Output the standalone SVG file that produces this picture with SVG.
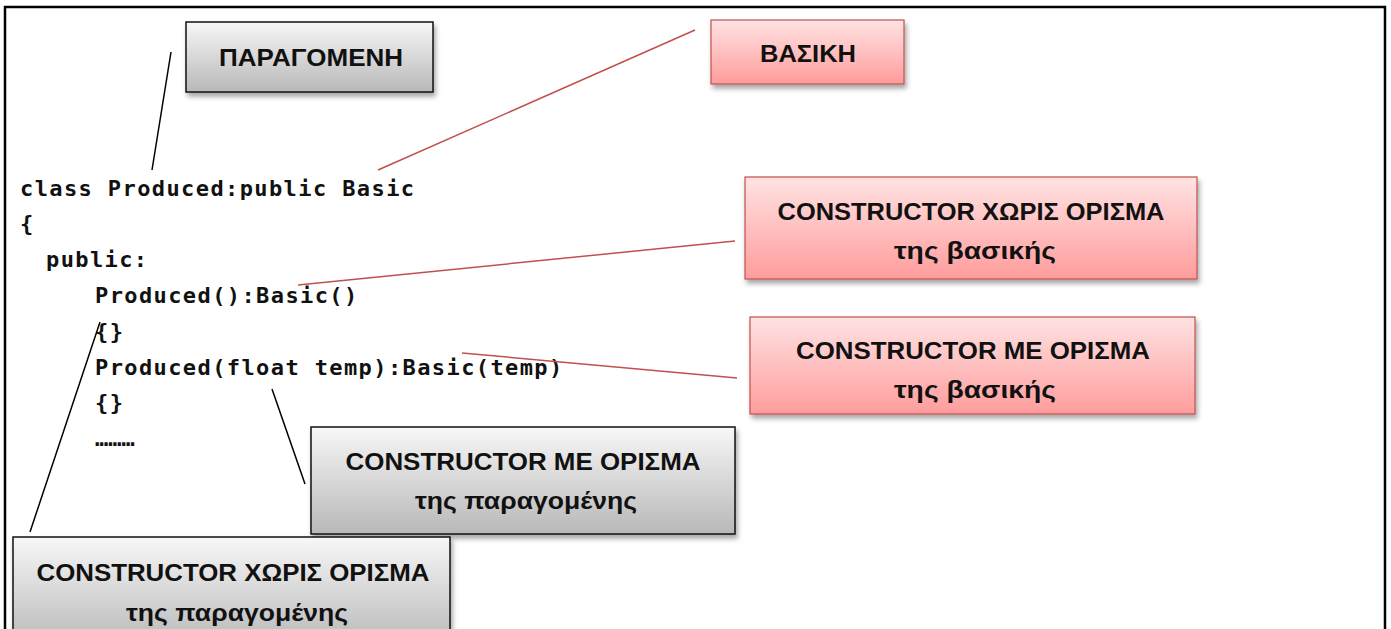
<svg xmlns="http://www.w3.org/2000/svg" width="1391" height="629" viewBox="0 0 1391 629">
<style>
.code{font-family:"DejaVu Sans Mono","Liberation Mono",monospace;font-weight:bold;font-size:22px;fill:#111;letter-spacing:1.4px}
.lbl{font-family:"Liberation Sans","Noto Sans",sans-serif;font-weight:bold;font-size:24px;fill:#111;text-anchor:middle}
.gray{fill:url(#gg);stroke:#111;stroke-width:1.5;filter:url(#sh)}
.pink{fill:url(#pg);stroke:#c0504d;stroke-width:1.2;filter:url(#sh)}
.blk{stroke:#000;stroke-width:1.5;fill:none}
.red{stroke:#c0504d;stroke-width:1.5;fill:none}
</style>
<defs>
<linearGradient id="gg" x1="0" y1="0" x2="0" y2="1"><stop offset="0" stop-color="#f7f7f7"/><stop offset="1" stop-color="#b8b8b8"/></linearGradient>
<linearGradient id="pg" x1="0" y1="0" x2="0" y2="1"><stop offset="0" stop-color="#ffe3e3"/><stop offset="1" stop-color="#ff9c9c"/></linearGradient>
<filter id="sh" x="-10%" y="-10%" width="130%" height="140%"><feDropShadow dx="2" dy="4" stdDeviation="2.5" flood-color="#000" flood-opacity="0.35"/></filter>
</defs>
<rect width="1391" height="629" fill="#fff"/>
<path d="M5,640 V7 H1385 V640" fill="none" stroke="#000" stroke-width="2.5"/>
<g id="code">
<text class="code" x="20" y="196">class Produced:public Basic</text>
<text class="code" x="20" y="231">{</text>
<text class="code" x="46" y="267">public:</text>
<text class="code" x="95" y="303">Produced():Basic()</text>
<text class="code" x="95" y="339">{}</text>
<text class="code" x="95" y="375">Produced(float temp):Basic(temp)</text>
<text class="code" x="95" y="410">{}</text>
<text class="code" x="95" y="446" style="letter-spacing:0">………</text>
</g>
<g id="connectors">
<line class="blk" x1="171" y1="52" x2="152" y2="170"/>
<line class="red" x1="378" y1="170" x2="695" y2="30"/>
<line class="red" x1="298" y1="285" x2="735" y2="241"/>
<line class="red" x1="462" y1="353" x2="737" y2="378"/>
<line class="blk" x1="272" y1="389" x2="305" y2="484"/>
<line class="blk" x1="100" y1="322" x2="30" y2="532"/>
</g>
<g id="n-paragomeni">
<rect class="gray" x="186" y="22" width="247" height="70"/>
<text class="lbl" x="311" y="66" textLength="184" lengthAdjust="spacingAndGlyphs">ΠΑΡΑΓΟΜΕΝΗ</text>
</g>
<g id="n-vasiki">
<rect class="pink" x="711" y="20" width="193" height="64"/>
<text class="lbl" x="808" y="62" textLength="96" lengthAdjust="spacingAndGlyphs">ΒΑΣΙΚΗ</text>
</g>
<g id="n-ctor-noarg-base">
<rect class="pink" x="745" y="177" width="452" height="102"/>
<text class="lbl" x="971" y="220" textLength="387" lengthAdjust="spacingAndGlyphs">CONSTRUCTOR ΧΩΡΙΣ ΟΡΙΣΜΑ</text>
<text class="lbl" x="975" y="259" textLength="162" lengthAdjust="spacingAndGlyphs">της βασικής</text>
</g>
<g id="n-ctor-arg-base">
<rect class="pink" x="750" y="317" width="445" height="97"/>
<text class="lbl" x="973" y="359" textLength="354" lengthAdjust="spacingAndGlyphs">CONSTRUCTOR ΜΕ ΟΡΙΣΜΑ</text>
<text class="lbl" x="975" y="398" textLength="162" lengthAdjust="spacingAndGlyphs">της βασικής</text>
</g>
<g id="n-ctor-arg-derived">
<rect class="gray" x="311" y="427" width="424" height="107"/>
<text class="lbl" x="523" y="470" textLength="355" lengthAdjust="spacingAndGlyphs">CONSTRUCTOR ΜΕ ΟΡΙΣΜΑ</text>
<text class="lbl" x="526" y="509" textLength="222" lengthAdjust="spacingAndGlyphs">της παραγομένης</text>
</g>
<g id="n-ctor-noarg-derived">
<rect class="gray" x="13" y="537" width="437" height="110"/>
<text class="lbl" x="233" y="581" textLength="393" lengthAdjust="spacingAndGlyphs">CONSTRUCTOR ΧΩΡΙΣ ΟΡΙΣΜΑ</text>
<text class="lbl" x="237" y="621" textLength="222" lengthAdjust="spacingAndGlyphs">της παραγομένης</text>
</g>
</svg>
